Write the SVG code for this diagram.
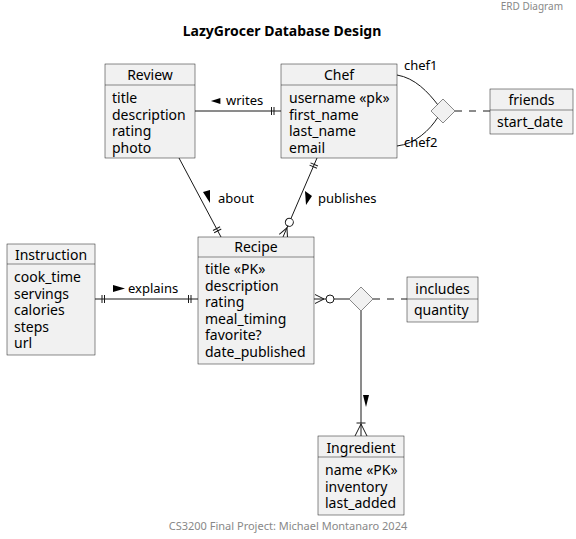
<svg xmlns="http://www.w3.org/2000/svg" width="576" height="539" viewBox="0 0 576 539">
<style>
text{font-family:"Noto Sans","Liberation Sans",sans-serif;fill:#000}
.box{fill:#F1F1F1;stroke:#181818;stroke-width:0.5}
.div{stroke:#181818;stroke-width:0.5}
.hd{font-size:14px;text-anchor:middle}
.at{font-size:14px}
.lb{font-size:13px}
.ln{fill:none;stroke:#181818;stroke-width:1}
.dash{fill:none;stroke:#181818;stroke-width:1;stroke-dasharray:7,7}
.tri{fill:#000}
</style>
<defs>
<marker id="one" markerUnits="userSpaceOnUse" viewBox="-25 -10 27 20" markerWidth="27" markerHeight="20" refX="0" refY="0" orient="auto-start-reverse" overflow="visible">
<path d="M-7,-4V4M-9.5,-4V4" fill="none" stroke="#181818" stroke-width="1"/>
</marker>
<marker id="zmany" markerUnits="userSpaceOnUse" viewBox="-25 -10 27 20" markerWidth="27" markerHeight="20" refX="0" refY="0" orient="auto-start-reverse" overflow="visible">
<path d="M-1,-4.5L-10,0L-1,4.5" fill="none" stroke="#181818" stroke-width="1"/>
<circle cx="-16" cy="0" r="4" fill="#fff" stroke="#181818" stroke-width="1"/>
</marker>
<marker id="onemany" markerUnits="userSpaceOnUse" viewBox="-25 -10 27 20" markerWidth="27" markerHeight="20" refX="0" refY="0" orient="auto-start-reverse" overflow="visible">
<path d="M0,-6L-12,0L0,6M-13,-4.5V4.5" fill="none" stroke="#181818" stroke-width="1"/>
</marker>
</defs>
<rect width="576" height="539" fill="#fff"/>
<text x="563" y="10" font-size="10" text-anchor="end" style="fill:#888">ERD Diagram</text>
<text x="282" y="36" font-size="14" font-weight="bold" text-anchor="middle">LazyGrocer Database Design</text>
<text x="288" y="530" font-size="11" text-anchor="middle" style="fill:#888">CS3200 Final Project: Michael Montanaro 2024</text>

<g id="connectors">
<path class="ln" d="M195,111H281" marker-end="url(#one)"/>
<path class="ln" d="M179,158L221,237" marker-end="url(#one)"/>
<path class="ln" d="M317,158L283,237" marker-start="url(#one)" marker-end="url(#zmany)"/>
<path class="ln" d="M95,299H198" marker-start="url(#one)" marker-end="url(#one)"/>
<path class="ln" d="M349,299H314" marker-end="url(#zmany)"/>
<path class="ln" d="M361,311V436" marker-end="url(#onemany)"/>
<path class="ln" d="M397,75C415,78 428,92 438,105"/>
<path class="ln" d="M397,146C415,144 430,130 438,117"/>
<path class="dash" d="M455,111H490"/>
<path class="dash" d="M373,299H407"/>
<polygon class="tri" points="211,98 211,104 220.5,101" transform="rotate(180 215.7 101)"/>
<text class="lb" x="226" y="105">writes</text>
<polygon class="tri" points="203,192 210,190 210,203"/>
<text class="lb" x="218" y="203">about</text>
<polygon class="tri" points="305,191 306,205 312,196"/>
<text class="lb" x="318" y="203">publishes</text>
<polygon class="tri" points="113,285 113,292 125,288.5"/>
<text class="lb" x="128" y="293">explains</text>
<polygon class="tri" points="363,395 369,395 366,407"/>
<text class="lb" x="404" y="70">chef1</text>
<text class="lb" x="404" y="147">chef2</text>
</g>

<g id="review">
<rect class="box" x="105" y="64" width="90" height="94"/>
<line class="div" x1="105" y1="85" x2="195" y2="85"/>
<text class="hd" x="150" y="80">Review</text>
<text class="at" x="112" y="103">title</text>
<text class="at" x="112" y="119.5">description</text>
<text class="at" x="112" y="136">rating</text>
<text class="at" x="112" y="152.5">photo</text>
</g>

<g id="chef">
<rect class="box" x="281" y="64" width="116" height="94"/>
<line class="div" x1="281" y1="85" x2="397" y2="85"/>
<text class="hd" x="339" y="80">Chef</text>
<text class="at" x="289" y="103">username «pk»</text>
<text class="at" x="289" y="119.5">first_name</text>
<text class="at" x="289" y="136">last_name</text>
<text class="at" x="289" y="152.5">email</text>
</g>

<g id="friends-rel">
<polygon class="box" points="443,99 455,111 443,123 431,111"/>
</g>

<g id="friends">
<rect class="box" x="490" y="89" width="83" height="45"/>
<line class="div" x1="490" y1="110" x2="573" y2="110"/>
<text class="hd" x="531.5" y="105">friends</text>
<text class="at" x="497" y="127">start_date</text>
</g>

<g id="instruction">
<rect class="box" x="7" y="244" width="88" height="111"/>
<line class="div" x1="7" y1="264" x2="95" y2="264"/>
<text class="hd" x="51" y="260">Instruction</text>
<text class="at" x="14" y="282">cook_time</text>
<text class="at" x="14" y="298.5">servings</text>
<text class="at" x="14" y="315">calories</text>
<text class="at" x="14" y="331.5">steps</text>
<text class="at" x="14" y="348">url</text>
</g>

<g id="recipe">
<rect class="box" x="198" y="237" width="116" height="127"/>
<line class="div" x1="198" y1="257" x2="314" y2="257"/>
<text class="hd" x="256" y="252">Recipe</text>
<text class="at" x="205" y="274">title «PK»</text>
<text class="at" x="205" y="290.5">description</text>
<text class="at" x="205" y="307">rating</text>
<text class="at" x="205" y="323.5">meal_timing</text>
<text class="at" x="205" y="340">favorite?</text>
<text class="at" x="205" y="356.5">date_published</text>
</g>

<g id="includes-rel">
<polygon class="box" points="361,287 373,299 361,311 349,299"/>
</g>

<g id="includes">
<rect class="box" x="407" y="277" width="71" height="45"/>
<line class="div" x1="407" y1="299" x2="478" y2="299"/>
<text class="hd" x="442.5" y="294">includes</text>
<text class="at" x="414" y="315">quantity</text>
</g>

<g id="ingredient">
<rect class="box" x="318" y="436" width="86" height="79"/>
<line class="div" x1="318" y1="457" x2="404" y2="457"/>
<text class="hd" x="361" y="453">Ingredient</text>
<text class="at" x="325" y="475">name «PK»</text>
<text class="at" x="325" y="491.5">inventory</text>
<text class="at" x="325" y="508">last_added</text>
</g>
</svg>
